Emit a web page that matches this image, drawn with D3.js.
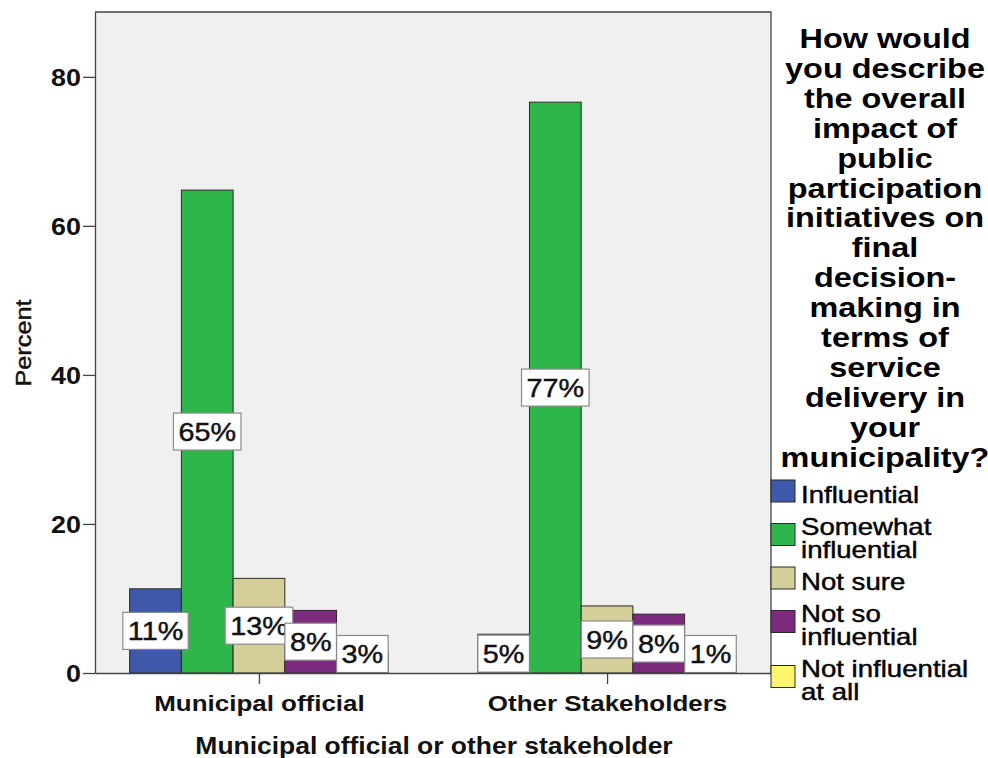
<!DOCTYPE html>
<html>
<head>
<meta charset="utf-8">
<script src="https://cdn.jsdelivr.net/npm/d3@7"></script>
<style>
  html, body { margin: 0; padding: 0; background: #ffffff; }
  svg { display: block; font-family: "Liberation Sans", Arial, sans-serif; }
</style>
</head>
<body>
<svg id="chart" width="988" height="758"></svg>
<script>
// Survey results: perceived impact of public participation, by respondent group (percent)
const categories = ["Municipal official", "Other Stakeholders"];
const responses = ["Influential", "Somewhat influential", "Not sure", "Not so influential", "Not influential at all"];
const municipalValues = [11.3, 64.8, 12.7, 8.4, 2.8];
const stakeholderValues = [5.2, 76.6, 9.0, 7.9, 1.3];
const yTicks = [0, 20, 40, 60, 80];
const legendLines = [["Influential"], ["Somewhat", "influential"], ["Not sure"], ["Not so", "influential"], ["Not influential", "at all"]];
const titleLines = ["How would", "you describe", "the overall", "impact of", "public", "participation",
  "initiatives on", "final", "decision-", "making in", "terms of", "service", "delivery in", "your", "municipality?"];
const xTitle = "Municipal official or other stakeholder";
const yTitle = "Percent";

const colors = ["#3e59aa", "#2fb64a", "#d4cf98", "#7c2a7e", "#fbf56c"];
const STRETCH = 1.2;   // the chart's typeface runs wider than Liberation Sans

const table = categories.map((c, i) => ({
  category: c,
  values: responses.map((r, j) => ({ category: c, response: r, idx: j, value: [municipalValues, stakeholderValues][i][j] }))
}));

const svg = d3.select("#chart");
const plot = { left: 95, right: 771, top: 12, bottom: 673 };

const y = d3.scaleLinear().domain([0, 88.7]).range([plot.bottom, plot.top]);
const x = d3.scalePoint().domain(categories).range([plot.left, plot.right]).padding(0.471);
const xInner = d3.scaleBand().domain(responses).range([-129.3, 129.3]).padding(0);
const color = d3.scaleOrdinal().domain(responses).range(colors);
const pct = d3.format(".0f");

// slightly heavier regular text
const heavy = sel => sel.attr("stroke", "#111").attr("stroke-width", 0.45).attr("paint-order", "stroke");

// plot background and frame
svg.append("rect")
  .attr("x", plot.left).attr("y", plot.top)
  .attr("width", plot.right - plot.left).attr("height", plot.bottom - plot.top)
  .attr("fill", "#f0f0f0");
svg.append("path")
  .attr("d", `M${plot.left},${plot.top}H${plot.right}V${plot.bottom}`)
  .attr("fill", "none").attr("stroke", "#444").attr("stroke-width", 1.3);

// bars
const groups = svg.append("g").selectAll("g").data(table).join("g")
  .attr("transform", d => `translate(${x(d.category)},0)`);

groups.selectAll("rect").data(d => d.values).join("rect")
  .attr("x", d => xInner(d.response))
  .attr("y", d => y(d.value))
  .attr("width", xInner.bandwidth())
  .attr("height", d => y(0) - y(d.value))
  .attr("fill", d => color(d.response))
  .attr("stroke", "#2a2a2a").attr("stroke-width", 1);

// value labels in white boxes at mid-height of each bar
groups.each(function (d) {
  const g = d3.select(this);
  d.values.forEach(v => {
    const cx = xInner(v.response) + xInner.bandwidth() / 2;
    const cy = Math.min(y(v.value / 2), y(0) - 19);
    const lg = g.append("g").attr("transform", `translate(${cx},${cy})`);
    const box = lg.append("rect").attr("fill", "#ffffff").attr("stroke", "#8a8a8a").attr("stroke-width", 1.2);
    const k = STRETCH * 0.94;
    const t = lg.append("text")
      .attr("text-anchor", "middle").attr("dy", "0.37em")
      .attr("transform", `scale(${k},1)`)
      .style("font-size", "25.5px").attr("fill", "#111")
      .text(pct(v.value) + "%")
      .call(heavy);
    const w = t.node().getComputedTextLength() * k + 10;
    box.attr("x", -w / 2).attr("y", -18.5).attr("width", w).attr("height", 37);
  });
});

// y axis
const yAxis = svg.append("g")
  .attr("transform", `translate(${plot.left},0)`)
  .call(d3.axisLeft(y).tickValues(yTicks).tickSize(12).tickSizeOuter(0).tickPadding(3));
yAxis.select(".domain").attr("stroke", "#444").attr("stroke-width", 1.3);
yAxis.selectAll(".tick line").attr("stroke", "#444").attr("stroke-width", 1.3);
yAxis.selectAll(".tick text")
  .attr("x", 0).attr("dy", "0.36em")
  .attr("transform", `translate(-14,0) scale(1.12,1)`)
  .attr("fill", "#111")
  .style("font-size", "24px").style("font-weight", "bold").style("font-family", "'Liberation Sans', Arial, sans-serif");

// x axis
const xAxis = svg.append("g")
  .attr("transform", `translate(0,${plot.bottom})`)
  .call(d3.axisBottom(x).tickSize(11).tickSizeOuter(0).tickPadding(0));
xAxis.select(".domain").attr("stroke", "#444").attr("stroke-width", 1.3);
xAxis.selectAll(".tick line").attr("stroke", "#444").attr("stroke-width", 1.3);
xAxis.selectAll(".tick text")
  .attr("y", 0).attr("dy", 0)
  .attr("transform", `translate(0,38) scale(1.18,1)`)
  .attr("fill", "#111")
  .style("font-size", "22px").style("font-weight", "bold").style("font-family", "'Liberation Sans', Arial, sans-serif");

// axis titles
svg.append("text")
  .attr("text-anchor", "middle")
  .attr("transform", `translate(434,754) scale(1.15,1)`)
  .style("font-size", "23px").style("font-weight", "bold").attr("fill", "#111")
  .text(xTitle);

svg.append("text")
  .attr("text-anchor", "middle")
  .attr("transform", `translate(31,343) rotate(-90) scale(1.15,1)`)
  .style("font-size", "22px").attr("fill", "#111")
  .text(yTitle)
  .call(heavy);

// legend title
const title = svg.append("g").attr("transform", "translate(885,48)");
title.selectAll("text").data(titleLines).join("text")
  .attr("text-anchor", "middle")
  .attr("transform", (d, i) => `translate(0,${i * 29.9}) scale(${STRETCH},1)`)
  .style("font-size", "27px").style("font-weight", "bold").attr("fill", "#000")
  .text(d => d);

// legend items
const legend = svg.append("g");
let baseline = 503;
responses.forEach((r, i) => {
  const lines = legendLines[i];
  const mid = baseline + (lines.length - 1) * 23 / 2 - 12;
  legend.append("rect")
    .attr("x", 771).attr("y", mid - 11)
    .attr("width", 24).attr("height", 22)
    .attr("fill", color(r)).attr("stroke", "#2a2a2a").attr("stroke-width", 1);
  lines.forEach((ln, k) => {
    legend.append("text")
      .attr("transform", `translate(801,${baseline + k * 23}) scale(${STRETCH},1)`)
      .style("font-size", "23px").attr("fill", "#000")
      .text(ln)
      .call(heavy);
  });
  baseline += (lines.length - 1) * 23 + 32;
});
</script>
</body>
</html>
